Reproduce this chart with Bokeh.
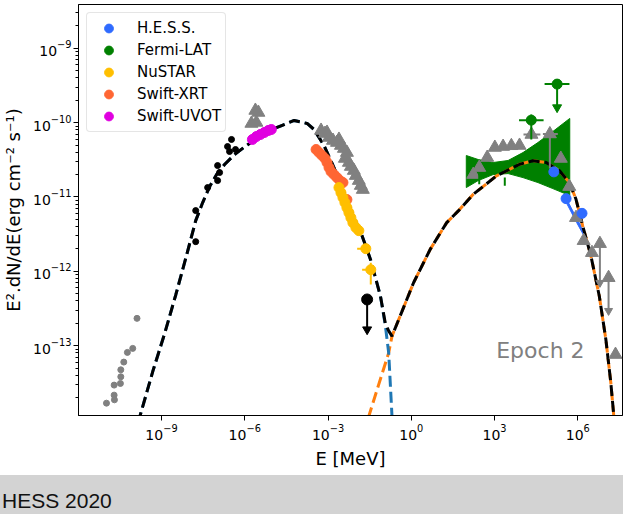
import numpy as np
from bokeh.plotting import figure
from bokeh.models import ColumnDataSource, FixedTicker, Legend, LegendItem, Div, Label, Range1d
from bokeh.layouts import column
from bokeh.embed import file_html
from bokeh.resources import INLINE

# ---------------- data: log10(E / MeV), log10(E^2 dN/dE / erg cm^-2 s^-1) ----------------
X_RANGE_LOG = (-11.99, 7.61)
Y_RANGE_LOG = (-13.94, -8.41)
X_TICKS = [1e-9, 1e-6, 1e-3, 1e0, 1e3, 1e6]
Y_TICKS = [1e-13, 1e-12, 1e-11, 1e-10, 1e-9]
Y_MINOR = [m * 10.0 ** e for e in range(-14, -8) for m in range(2, 10)]

# archival radio/IR points (grey dots) and optical points (black dots)
GREY_DOT_E = [-9.882, -10.036, -10.229, -10.358, -10.466, -10.466, -10.480, -10.706, -10.706, -10.695, -10.982]
GREY_DOT_F = [-12.633, -13.037, -13.091, -13.221, -13.325, -13.419, -13.509, -13.531, -13.666, -13.729, -13.774]
BLACK_DOT_E = [-7.767, -7.767, -7.337, -6.978, -6.978, -6.907, -6.620, -6.548, -6.333, -6.477]
BLACK_DOT_F = [-11.183, -11.601, -10.873, -10.779, -10.577, -10.671, -10.321, -10.388, -10.361, -10.226]

# Swift-UVOT
UVOT_E = [-5.724, -5.581, -5.437, -5.294, -5.151, -5.043]
UVOT_F = [-10.226, -10.186, -10.159, -10.132, -10.105, -10.092]
# archival grey triangles (UV / X-ray)
UV_TRI_E = [-5.760, -5.581, -5.617, -5.509]
UV_TRI_F = [-10.011, -9.997, -9.836, -9.863]
XR_TRI_E = [-3.251, -3.108, -2.964, -2.821, -2.677, -2.534, -2.427, -2.319, -2.391, -2.247,
            -2.176, -2.068, -1.996, -1.889, -1.817, -1.746, -3.036, -2.606]
XR_TRI_F = [-10.105, -10.146, -10.199, -10.240, -10.267, -10.307, -10.348, -10.402, -10.482, -10.536,
            -10.590, -10.644, -10.712, -10.779, -10.846, -10.900, -10.132, -10.226]

# Swift-XRT
XRT_E = [-3.430, -3.323, -3.215, -3.108, -3.036, -2.964, -2.892, -2.785, -2.677, -2.570, -2.462, -2.319]
XRT_F = [-10.361, -10.402, -10.442, -10.482, -10.536, -10.604, -10.658, -10.698, -10.739, -10.779, -10.806, -11.035]

# NuSTAR
NUSTAR_E = [-2.606, -2.534, -2.462, -2.391, -2.319, -2.247, -2.176, -2.104, -1.996, -1.889, -1.638, -1.459]
NUSTAR_F = [-10.873, -10.941, -11.008, -11.075, -11.143, -11.210, -11.278, -11.345, -11.412, -11.453, -11.695, -11.978]
NUSTAR_XERR_LO = [-1.950, -1.771]
NUSTAR_XERR_HI = [-1.530, -1.351]
NUSTAR_XERR_F = [-11.695, -11.978]
NUSTAR_YERR_E = [-1.459]
NUSTAR_YERR_LO = [-12.177]
NUSTAR_YERR_HI = [-11.884]

# black upper limit
BLACK_UL_E = [-1.591]
BLACK_UL_F = [-12.379]
BLACK_UL_TIP = [-12.783]

# Fermi-LAT butterfly
FERMI_BT_E = [1.982, 2.412, 2.950, 3.487, 4.025, 4.563, 5.100, 5.710]
FERMI_BT_TOP = [-10.442, -10.496, -10.536, -10.509, -10.402, -10.267, -10.119, -9.943]
FERMI_BT_BOT = [-10.873, -10.779, -10.698, -10.685, -10.739, -10.806, -10.887, -10.981]
# Fermi-LAT points
FERMI_E = [4.323]
FERMI_F = [-9.966]
FERMI_XLO = [3.882]
FERMI_XHI = [4.767]
FERMI_YLO = [-10.226]
FERMI_YHI = [-9.889]
FERMI_UL_E = [5.254]
FERMI_UL_F = [-9.481]
FERMI_UL_XLO = [4.803]
FERMI_UL_XHI = [5.699]
FERMI_UL_TIP = [-9.795]
FERMI_STUB_E = [2.448, 3.369]
FERMI_STUB_HI = [-10.671, -10.739]
FERMI_STUB_LO = [-10.829, -10.850]

# archival gamma-ray grey triangles
GAMMA_TRI_E = [2.233, 2.448, 2.735, 3.011, 3.308, 3.606, 3.900, 4.330, 4.993, 5.387, 5.692, 5.935, 6.211, 6.509, 7.358]
GAMMA_TRI_F = [-10.698, -10.604, -10.469, -10.334, -10.321, -10.311, -10.307, -10.159, -10.152, -10.482,
               -10.860, -11.278, -11.588, -11.749, -13.120]
GAMMA_XERR_LO = [4.043, 4.742]
GAMMA_XERR_HI = [4.652, 5.280]
GAMMA_XERR_F = [-10.159, -10.152]
GAMMA_YERR_E = [4.993]
GAMMA_YERR_HI = [-10.152]
GAMMA_YERR_LO = [-10.617]
GAMMA_UL_E = [6.796, 7.108]
GAMMA_UL_F = [-11.628, -12.086]
GAMMA_UL_TIP = [-12.154, -12.531]

# H.E.S.S.
HESS_E = [5.136, 5.577, 6.151]
HESS_F = [-10.662, -11.022, -11.220]
HESS_BT_E = [5.530, 5.889, 6.247, 6.319, 5.960, 5.602]
HESS_BT_F = [-10.981, -11.237, -11.480, -11.588, -11.345, -11.089]

# model curves
SYNC_E = [-9.846, -9.308, -8.878, -8.484, -8.090, -7.767, -7.516, -7.265, -7.014, -6.728, -6.369, -5.950,
          -5.581, -5.294, -4.695, -4.219, -3.753, -3.502, -3.143, -2.785, -2.427, -2.068, -1.771, -1.470,
          -1.111, -0.932, -0.814, -0.695, -0.670]
SYNC_F = [-14.040, -13.340, -12.827, -12.315, -11.776, -11.318, -11.075, -10.860, -10.698, -10.563, -10.429,
          -10.311, -10.213, -10.132, -10.042, -9.970, -10.011, -10.092, -10.307, -10.604, -10.941, -11.278,
          -11.524, -11.840, -12.333, -12.737, -13.097, -13.950, -14.108]
IC_E = [-1.602, -1.530, -1.172, -0.814, -0.695, 0.082, 0.681, 1.276, 1.695, 2.233, 3.068, 3.907, 4.384,
        4.860, 5.341, 5.699, 5.935, 6.176, 6.473, 6.774, 7.011, 7.190, 7.287, 7.323]
IC_F = [-14.108, -13.950, -13.521, -13.097, -12.872, -12.154, -11.705, -11.345, -11.187, -10.964, -10.716,
        -10.559, -10.513, -10.536, -10.648, -10.806, -11.031, -11.389, -11.794, -12.333, -12.918, -13.501,
        -13.906, -14.108]
TOT_E = [-9.846, -9.308, -8.878, -8.484, -8.090, -7.767, -7.516, -7.265, -7.014, -6.728, -6.369, -5.950,
         -5.581, -5.294, -4.695, -4.219, -3.753, -3.502, -3.143, -2.785, -2.427, -2.068, -1.771, -1.470,
         -1.111, -0.932, -0.814, -0.695, 0.082, 0.681, 1.276, 1.695, 2.233, 3.068, 3.907, 4.384,
         4.860, 5.341, 5.699, 5.935, 6.176, 6.473, 6.774, 7.011, 7.190, 7.287, 7.323]
TOT_F = [-14.040, -13.340, -12.827, -12.315, -11.776, -11.318, -11.075, -10.860, -10.698, -10.563, -10.429,
         -10.311, -10.213, -10.132, -10.042, -9.970, -10.011, -10.092, -10.307, -10.604, -10.941, -11.278,
         -11.524, -11.840, -12.333, -12.706, -12.801, -12.872, -12.154, -11.705, -11.345, -11.187, -10.964,
         -10.716, -10.559, -10.513, -10.536, -10.648, -10.806, -11.031, -11.389, -11.794, -12.333, -12.918,
         -13.501, -13.906, -14.108]

LEGEND_LABELS = ["H.E.S.S.", "Fermi-LAT", "NuSTAR", "Swift-XRT", "Swift-UVOT"]
EPOCH_LABEL = "Epoch 2"
EPOCH_POS_LOG = (3.06, -13.07)
FOOTER_TEXT = "HESS 2020"

# ---------------- styling ----------------
C_HESS = "#2f6bff"
C_FERMI = "#008000"
C_NUSTAR = "#ffbf00"
C_XRT = "#ff6633"
C_UVOT = "#e000e0"
C_GREY = "#808080"
C_BAND = "#d3d3d3"
FONT = "DejaVu Sans"
PAGE_W = 623


def lin(a):
    return [10.0 ** v for v in a]


p = figure(width=PAGE_W, height=475, x_axis_type="log", y_axis_type="log",
           x_range=Range1d(10 ** X_RANGE_LOG[0], 10 ** X_RANGE_LOG[1]),
           y_range=Range1d(10 ** Y_RANGE_LOG[0], 10 ** Y_RANGE_LOG[1]),
           output_backend="svg", toolbar_location=None,
           min_border_left=75, min_border_right=1, min_border_top=4, min_border_bottom=60)
p.grid.visible = False
p.outline_line_color = "black"
p.outline_line_width = 1
p.background_fill_color = "white"
p.border_fill_color = "white"

p.xaxis.ticker = FixedTicker(ticks=X_TICKS, minor_ticks=[])
p.yaxis.ticker = FixedTicker(ticks=Y_TICKS, minor_ticks=Y_MINOR)
for ax in (p.xaxis[0], p.yaxis[0]):
    ax.major_tick_out = 5
    ax.major_tick_in = 0
    ax.minor_tick_out = 3
    ax.minor_tick_in = 0
    ax.axis_line_color = "black"
    ax.major_tick_line_color = "black"
    ax.minor_tick_line_color = "black"
    ax.major_label_text_font = FONT
    ax.major_label_text_font_size = "14px"
    ax.major_label_text_color = "black"
    ax.major_label_standoff = 3
    ax.axis_label_text_font = FONT
    ax.axis_label_text_font_size = "18px"
    ax.axis_label_text_font_style = "normal"
    ax.axis_label_text_color = "black"
    ax.axis_label_standoff = 5
p.yaxis.major_label_standoff = 2
p.yaxis.axis_label_standoff = 6
p.xaxis.axis_label = "E [MeV]"
p.yaxis.axis_label = "E\u00b2.dN/dE(erg cm\u207b\u00b2 s\u207b\u00b9)"

# Fermi-LAT butterfly and H.E.S.S. butterfly
p.patch(lin(FERMI_BT_E + FERMI_BT_E[::-1]), lin(FERMI_BT_TOP + FERMI_BT_BOT[::-1]),
        fill_color=C_FERMI, line_color=C_FERMI, line_width=1)
p.patch(lin(HESS_BT_E), lin(HESS_BT_F), fill_color=C_HESS, line_color=C_HESS, line_width=1)

# model curves
p.line(lin(IC_E), lin(IC_F), line_color="#ff7f0e", line_width=3, line_dash="11 5", line_dash_offset=6)
p.line(lin(SYNC_E), lin(SYNC_F), line_color="#1f77b4", line_width=3, line_dash="11 5")
p.line(lin(TOT_E), lin(TOT_F), line_color="black", line_width=3, line_dash="11 5")

# archival dots
p.scatter(lin(GREY_DOT_E), lin(GREY_DOT_F), marker="circle", size=6, color=C_GREY)
p.scatter(lin(BLACK_DOT_E), lin(BLACK_DOT_F), marker="circle", size=6, color="black")

# grey triangles and their bars
p.segment(lin(GAMMA_XERR_LO), lin(GAMMA_XERR_F), lin(GAMMA_XERR_HI), lin(GAMMA_XERR_F), line_color=C_GREY, line_width=2)
p.segment(lin(GAMMA_YERR_E), lin(GAMMA_YERR_HI), lin(GAMMA_YERR_E), lin(GAMMA_YERR_LO), line_color=C_GREY, line_width=2)
p.segment(lin(GAMMA_UL_E), lin(GAMMA_UL_F), lin(GAMMA_UL_E), lin(GAMMA_UL_TIP), line_color=C_GREY, line_width=2)
p.scatter(lin(GAMMA_UL_E), lin(GAMMA_UL_TIP), marker="inverted_triangle", size=8, color=C_GREY)
p.scatter(lin(UV_TRI_E + XR_TRI_E + GAMMA_TRI_E + GAMMA_UL_E), lin(UV_TRI_F + XR_TRI_F + GAMMA_TRI_F + GAMMA_UL_F),
          marker="triangle", size=13, color=C_GREY)

# error bars of coloured data
p.segment(lin(NUSTAR_XERR_LO), lin(NUSTAR_XERR_F), lin(NUSTAR_XERR_HI), lin(NUSTAR_XERR_F), line_color=C_NUSTAR, line_width=2)
p.segment(lin(NUSTAR_YERR_E), lin(NUSTAR_YERR_HI), lin(NUSTAR_YERR_E), lin(NUSTAR_YERR_LO), line_color=C_NUSTAR, line_width=2)
p.segment(lin(FERMI_XLO + FERMI_UL_XLO), lin(FERMI_F + FERMI_UL_F), lin(FERMI_XHI + FERMI_UL_XHI), lin(FERMI_F + FERMI_UL_F),
          line_color=C_FERMI, line_width=2)
p.segment(lin(FERMI_E), lin(FERMI_YHI), lin(FERMI_E), lin(FERMI_YLO), line_color=C_FERMI, line_width=2)
p.segment(lin(FERMI_UL_E), lin(FERMI_UL_F), lin(FERMI_UL_E), lin(FERMI_UL_TIP), line_color=C_FERMI, line_width=2)
p.scatter(lin(FERMI_UL_E), lin(FERMI_UL_TIP), marker="inverted_triangle", size=9, color=C_FERMI)
p.segment(lin(FERMI_STUB_E), lin(FERMI_STUB_HI), lin(FERMI_STUB_E), lin(FERMI_STUB_LO), line_color=C_FERMI, line_width=2)
p.segment(lin(BLACK_UL_E), lin(BLACK_UL_F), lin(BLACK_UL_E), lin(BLACK_UL_TIP), line_color="black", line_width=2)
p.scatter(lin(BLACK_UL_E), lin(BLACK_UL_TIP), marker="inverted_triangle", size=9, color="black")
p.scatter(lin(BLACK_UL_E), lin(BLACK_UL_F), marker="circle", size=11, color="black")

# coloured data points
r_xrt = p.scatter(lin(XRT_E), lin(XRT_F), marker="circle", size=10, color=C_XRT)
r_nustar = p.scatter(lin(NUSTAR_E), lin(NUSTAR_F), marker="circle", size=10, color=C_NUSTAR)
r_uvot = p.scatter(lin(UVOT_E), lin(UVOT_F), marker="circle", size=10, color=C_UVOT)
r_fermi = p.scatter(lin(FERMI_E + FERMI_UL_E), lin(FERMI_F + FERMI_UL_F), marker="circle", size=10, color=C_FERMI)
r_hess = p.scatter(lin(HESS_E), lin(HESS_F), marker="circle", size=10, color=C_HESS)

legend = Legend(items=[
    LegendItem(label=LEGEND_LABELS[0], renderers=[r_hess]),
    LegendItem(label=LEGEND_LABELS[1], renderers=[r_fermi]),
    LegendItem(label=LEGEND_LABELS[2], renderers=[r_nustar]),
    LegendItem(label=LEGEND_LABELS[3], renderers=[r_xrt]),
    LegendItem(label=LEGEND_LABELS[4], renderers=[r_uvot]),
], location="top_left")
legend.margin = 8
legend.padding = 4
legend.spacing = 0
legend.glyph_width = 35
legend.glyph_height = 22
legend.label_height = 22
legend.label_standoff = 11
legend.label_text_font = FONT
legend.label_text_font_size = "15px"
legend.label_text_color = "black"
legend.border_line_color = "#cccccc"
legend.border_line_width = 1
legend.border_radius = 4
legend.background_fill_alpha = 0.8
p.add_layout(legend)

p.add_layout(Label(x=10 ** EPOCH_POS_LOG[0], y=10 ** EPOCH_POS_LOG[1], text=EPOCH_LABEL,
                   text_font=FONT, text_font_size="22px", text_color=C_GREY,
                   text_align="left", text_baseline="alphabetic"))

footer = Div(text='<div style="padding:14px 0 0 2px; font-family:\'Liberation Sans\', Arial, sans-serif; '
                  'font-size:21px; color:#111111; line-height:24px; white-space:nowrap;">' + FOOTER_TEXT + '</div>',
             width=PAGE_W, height=39, margin=0,
             styles={"background-color": C_BAND})

layout = column(p, footer, spacing=0)
open("out.html", "w").write(file_html(layout, INLINE))
